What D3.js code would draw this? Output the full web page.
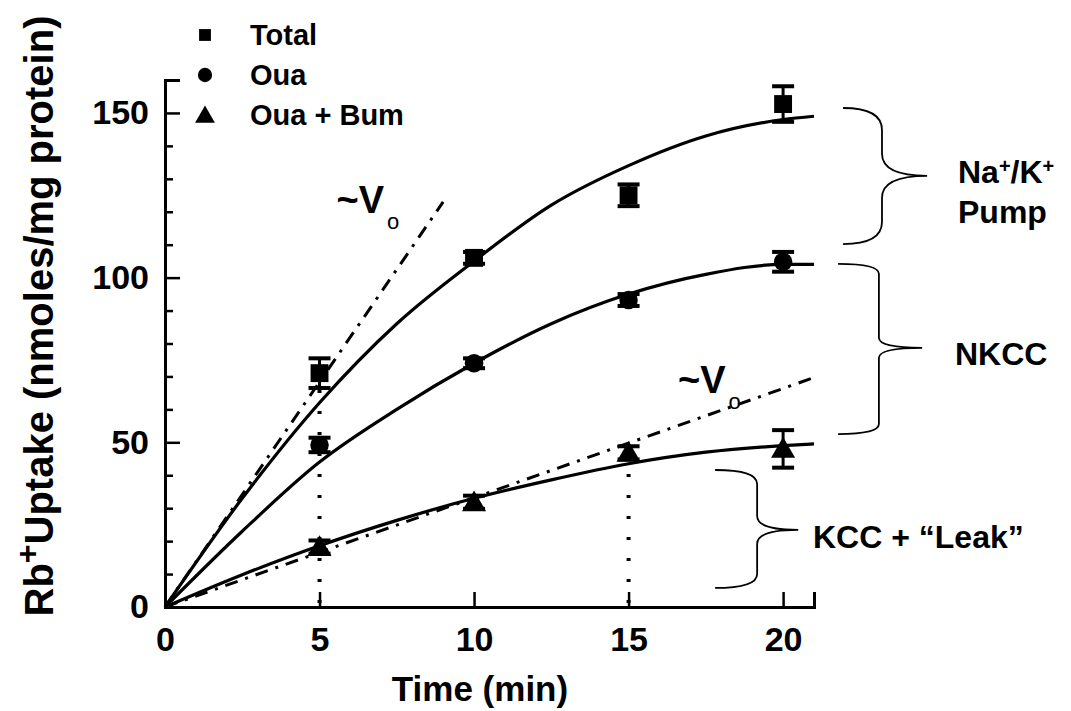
<!DOCTYPE html>
<html><head><meta charset="utf-8">
<script src="https://cdn.jsdelivr.net/npm/d3@7"></script>
<style>body{margin:0;background:#fff} text{font-family:"Liberation Sans",Arial,sans-serif;font-weight:bold;fill:#000}</style>
</head><body><svg id="c" width="1071" height="711"></svg>
<script>
// ---- data ----
const times = [5, 10, 15, 20];
const totalMean = [71, 106, 125, 152.7];
const totalErr = [4.5, 1.8, 3.3, 5.4];
const ouaMean = [49.2, 74, 93.2, 104.8];
const ouaErr = [2.2, 1.5, 1.8, 3];
const bumMean = [18.2, 31.8, 46.8, 48];
const bumErr = [2, 2, 2, 5.7];
const fitTimes = [0, 2.5, 5, 7.5, 10, 12.5, 15, 17.5, 20, 21];
const totalFit = [0, 33, 62, 86, 105, 122, 134, 143, 148, 149];
const ouaFit = [0, 23, 44, 60, 74, 86, 95, 101, 104, 104];
const bumFit = [0, 9.8, 18.6, 26.3, 33, 38.6, 43.5, 47, 49, 49.5];
const vo1Times = [0, 9], vo1Vals = [0, 123];
const vo2Times = [0, 21.1], vo2Vals = [0, 70];
const dropTimes = [5, 15], dropTops = [66, 47];
const xTicks = [0, 5, 10, 15, 20];
const yTicks = [0, 50, 100, 150];
const legendLabels = ["Total", "Oua", "Oua + Bum"];
const braceNames = ["Na/K", "NKCC", "KCC"];
const braceTop = [151.5, 104.2, 41.6], braceBottom = [110.2, 52.5, 5.8], braceMid = [130.9, 78.7, 23.4];
const braceX0 = [21.94, 21.78, 17.8], braceXs = [23.2, 23.1, 19.16], braceXt = [24.66, 24.5, 20.49];

// ---- scales ----
const svg = d3.select("#c");
const x = d3.scaleLinear().domain([0, 21]).range([165, 814]);
const y = d3.scaleLinear().domain([0, 160]).range([607, 80]);

// axes
const gx = svg.append("g").attr("transform", `translate(0,${y(0)})`)
  .call(d3.axisBottom(x).tickValues(xTicks).tickSize(-15).tickPadding(30).tickFormat(d3.format("d")));
const gy = svg.append("g").attr("transform", `translate(${x(0)},0)`)
  .call(d3.axisLeft(y).tickValues(yTicks).tickSize(-15).tickPadding(16).tickFormat(d3.format("d")));
svg.append("g").attr("transform", `translate(${x(0)},0)`)
  .call(d3.axisLeft(y).tickValues(d3.range(0, 161, 10).filter(v => v % 50 !== 0)).tickSize(-8).tickFormat(""))
  .select(".domain").remove();
svg.selectAll(".domain").attr("stroke", "#000").attr("stroke-width", 3);
svg.selectAll(".tick line").attr("stroke", "#000").attr("stroke-width", 2.5);
gx.selectAll(".tick text").attr("font-size", 34).attr("dy", "0.4em").style("font-family", "Liberation Sans").style("font-weight", "bold");
gy.selectAll(".tick text").attr("font-size", 34).style("font-family", "Liberation Sans").style("font-weight", "bold");

// axis titles
svg.append("text").attr("x", 480).attr("y", 701).attr("text-anchor", "middle").attr("font-size", 35).text("Time (min)");
const yt = svg.append("text").attr("transform", "translate(53,316) rotate(-90)").attr("text-anchor", "middle").attr("font-size", 40);
yt.append("tspan").text("Rb");
yt.append("tspan").attr("dy", -15).attr("font-size", 32).text("+");
yt.append("tspan").attr("dy", 15).text("Uptake (nmoles/mg protein)");

// dotted drop lines
dropTimes.forEach((t, i) => {
  svg.append("line").attr("x1", x(t)).attr("x2", x(t)).attr("y1", y(0) - 4).attr("y2", y(dropTops[i]))
    .attr("stroke", "#000").attr("stroke-width", 4).attr("stroke-dasharray", "3,18");
});

// dash-dot tangents
const line2 = (ts, vs) => d3.line()(ts.map((t, i) => [x(t), y(vs[i])]));
[[vo1Times, vo1Vals], [vo2Times, vo2Vals]].forEach(([ts, vs]) => {
  svg.append("path").attr("d", line2(ts, vs)).attr("fill", "none").attr("stroke", "#000")
    .attr("stroke-width", 3).attr("stroke-dasharray", "13,8,3,8");
});

// fitted curves
const curve = d3.line().curve(d3.curveMonotoneX);
[totalFit, ouaFit, bumFit].forEach(arr => {
  svg.append("path").attr("d", curve(fitTimes.map((t, i) => [x(t), y(arr[i])])))
    .attr("fill", "none").attr("stroke", "#000").attr("stroke-width", 3.2);
});

// error bars + markers
const series = [[totalMean, totalErr, "square"], [ouaMean, ouaErr, "circle"], [bumMean, bumErr, "triangle"]];
const sym = {square: d3.symbolSquare, circle: d3.symbolCircle, triangle: d3.symbolTriangle};
const symSize = {square: 320, circle: 270, triangle: 250};
series.forEach(([m, e, s]) => {
  times.forEach((t, i) => {
    const cx = x(t);
    svg.append("line").attr("x1", cx).attr("x2", cx).attr("y1", y(m[i] - e[i])).attr("y2", y(m[i] + e[i])).attr("stroke", "#000").attr("stroke-width", 3);
    [m[i] - e[i], m[i] + e[i]].forEach(v => svg.append("line").attr("x1", cx - 11).attr("x2", cx + 11).attr("y1", y(v)).attr("y2", y(v)).attr("stroke", "#000").attr("stroke-width", 4));
    svg.append("path").attr("d", d3.symbol(sym[s], symSize[s])()).attr("transform", `translate(${cx},${y(m[i]) + (s === "triangle" ? 2 : 0)})`).attr("fill", "#000");
  });
});

// legend
legendLabels.forEach((lab, i) => {
  const s = ["square", "circle", "triangle"][i];
  const ly = 35 + i * 40;
  svg.append("path").attr("d", d3.symbol(sym[s], [140, 160, 170][i])()).attr("transform", `translate(205,${ly + (i === 2 ? 2 : 0)})`).attr("fill", "#000");
  svg.append("text").attr("x", 250).attr("y", ly + 10).attr("font-size", 29).text(lab);
});

// Vo labels
function voLabel(px, py) {
  const t = svg.append("text").attr("x", px).attr("y", py).attr("font-size", 38);
  t.append("tspan").text("~V");
  t.append("tspan").attr("dx", 3).attr("dy", 16).attr("font-size", 22).attr("font-weight", "normal").text("o");
}
voLabel(x(5.55), y(119.5));
voLabel(x(16.6), y(65));

// braces
braceNames.forEach((n, i) => {
  const x0 = x(braceX0[i]), xs = x(braceXs[i]), xt = x(braceXt[i]);
  const yt0 = y(braceTop[i]), yb = y(braceBottom[i]), ym = y(braceMid[i]);
  const r = [22, 10, 14][i];
  const p = `M${x0},${yt0} Q${xs},${yt0} ${xs},${yt0 + r} L${xs},${ym - r} Q${xs},${ym} ${xt},${ym} Q${xs},${ym} ${xs},${ym + r} L${xs},${yb - r} Q${xs},${yb} ${x0},${yb}`;
  svg.append("path").attr("d", p).attr("fill", "none").attr("stroke", "#000").attr("stroke-width", 1.8);
});
const t1 = svg.append("text").attr("x", 958).attr("y", 183).attr("font-size", 32);
t1.append("tspan").text("Na");
t1.append("tspan").attr("dy", -10).attr("font-size", 20).text("+");
t1.append("tspan").attr("dy", 10).text("/K");
t1.append("tspan").attr("dy", -10).attr("font-size", 20).text("+");
svg.append("text").attr("x", 958).attr("y", 223).attr("font-size", 32).text("Pump");
svg.append("text").attr("x", 955).attr("y", 365).attr("font-size", 32).text("NKCC");
svg.append("text").attr("x", 813).attr("y", 548).attr("font-size", 32).text("KCC + \u201cLeak\u201d");
</script></body></html>
